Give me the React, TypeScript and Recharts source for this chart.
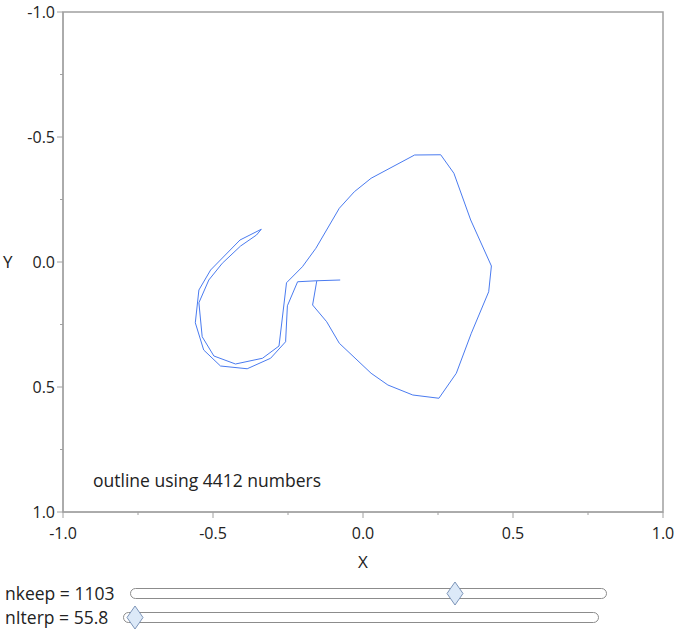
import { ScatterChart, Scatter, XAxis, YAxis, ReferenceArea } from 'recharts';

// outline path, in drawing order
const outlineX = [
  -0.076, -0.154, -0.218, -0.252, -0.258, -0.308, -0.386, -0.475, -0.531, -0.559,
  -0.547, -0.508, -0.41, -0.339, -0.355, -0.408, -0.469, -0.514, -0.547, -0.536,
  -0.497, -0.425, -0.335, -0.28, -0.255, -0.202, -0.157, -0.079, -0.029, 0.027,
  0.172, 0.259, 0.303, 0.359, 0.428, 0.419, 0.361, 0.311, 0.253, 0.166,
  0.083, 0.027, -0.079, -0.121, -0.168, -0.154,
];
const outlineY = [
  0.072, 0.075, 0.079, 0.175, 0.319, 0.385, 0.427, 0.416, 0.352, 0.243,
  0.112, 0.032, -0.088, -0.131, -0.108, -0.064, 0.005, 0.072, 0.163, 0.299,
  0.376, 0.408, 0.385, 0.336, 0.083, 0.019, -0.055, -0.215, -0.281, -0.335,
  -0.428, -0.429, -0.355, -0.168, 0.016, 0.119, 0.285, 0.445, 0.545, 0.532,
  0.492, 0.445, 0.325, 0.239, 0.172, 0.075,
];

const majorTicks = [-1, -0.5, 0, 0.5, 1];
const allTicks = [-1, -0.75, -0.5, -0.25, 0, 0.25, 0.5, 0.75, 1];

const sliders = [
  { label: 'nkeep = 1103', left: 130, width: 475, top: 588, pos: 455 },
  { label: 'nIterp = 55.8', left: 123, width: 474, top: 612, pos: 135 },
];

const axisColor = '#a0a0a0';
const textColor = '#222';
const font = '"Open Sans", sans-serif';

const points = outlineX.map((x, i) => ({ x, y: outlineY[i] }));

function YTick(props: any) {
  const { x, y, payload } = props;
  const major = majorTicks.includes(payload.value);
  return (
    <g>
      <line x1={x} x2={x - (major ? 6 : 3)} y1={y} y2={y} stroke={axisColor} />
      {major && (
        <text x={x - 8} y={y} dy={6} textAnchor="end" fontSize={16} fill={textColor} fontFamily={font}>
          {payload.value.toFixed(1)}
        </text>
      )}
    </g>
  );
}

function XTick(props: any) {
  const { x, y, payload } = props;
  const major = majorTicks.includes(payload.value);
  return (
    <g>
      <line x1={x} x2={x} y1={y} y2={y + (major ? 6 : 3)} stroke={axisColor} />
      {major && (
        <text x={x} y={y + 27} textAnchor="middle" fontSize={16} fill={textColor} fontFamily={font}>
          {payload.value.toFixed(1)}
        </text>
      )}
    </g>
  );
}

function Slider({ label, left, width, top, pos }: (typeof sliders)[number]) {
  return (
    <>
      <div style={{ position: 'absolute', left: 5, top: top - 6, fontSize: 17.5, lineHeight: '22px', color: textColor }}>
        {label}
      </div>
      <div
        style={{
          position: 'absolute',
          left,
          top,
          width,
          height: 9,
          border: '1px solid #8c8c8c',
          borderRadius: 6,
          background: '#fff',
        }}
      />
      <svg style={{ position: 'absolute', left: pos - 9, top: top - 7 }} width={18} height={25}>
        <polygon points="9,1 17,12.5 9,24 1,12.5" fill="#dce9f8" stroke="#7d95b8" strokeWidth={1} />
      </svg>
    </>
  );
}

export default function App() {
  return (
    <div style={{ position: 'absolute', left: 0, top: 0, width: 678, height: 634, fontFamily: font, background: '#fff' }}>
      <ScatterChart width={678} height={575} margin={{ top: 12, right: 15, bottom: 0, left: 0 }}>
        <XAxis
          type="number"
          dataKey="x"
          domain={[-1, 1]}
          ticks={allTicks}
          interval={0}
          tickSize={0}
          tickMargin={0}
          tickLine={false}
          tick={<XTick />}
          height={63}
          stroke={axisColor}
          label={{ value: 'X', position: 'insideBottom', offset: 7, fontSize: 17, fill: textColor }}
        />
        <YAxis
          type="number"
          dataKey="y"
          domain={[-1, 1]}
          reversed
          ticks={allTicks}
          interval={0}
          tickSize={0}
          tickMargin={0}
          tickLine={false}
          tick={<YTick />}
          width={63}
          stroke={axisColor}
          label={{ value: 'Y', position: 'insideLeft', offset: 3, fontSize: 17, fill: textColor }}
        />
        <ReferenceArea x1={-1} x2={1} y1={-1} y2={1} fill="none" stroke={axisColor} strokeWidth={1.5} />
        <Scatter
          data={points}
          line={{ stroke: '#4a7bf0', strokeWidth: 1 }}
          lineType="joint"
          shape={() => <g />}
          isAnimationActive={false}
        />
      </ScatterChart>
      <div style={{ position: 'absolute', left: 93, top: 468, fontSize: 17.5, lineHeight: '24px', color: textColor }}>
        outline using 4412 numbers
      </div>
      {sliders.map((s) => (
        <Slider key={s.label} {...s} />
      ))}
    </div>
  );
}
